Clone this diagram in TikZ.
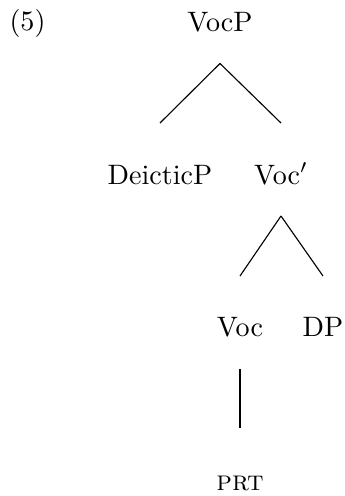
\documentclass[tikz,border=0pt]{standalone}
\usetikzlibrary{calc}

\begin{document}
\begin{tikzpicture}[
  x=0.356pt, y=0.356pt,
  font=\fontsize{10}{12}\selectfont,
  cat/.style={anchor=base, inner sep=0pt},
  branch/.style={line width=0.4pt},
]
\useasboundingbox (0,0) rectangle (344,496);

% example number and root
\node[cat, anchor=base west] (exnum) at (9,465.5) {(5)};
\node[cat] (vocp) at (220,464.5) {VocP};

% daughters of VocP
\node[cat] (deic) at (160,312) {DeicticP};
\node[cat] (vocbar) at (281,312) {Voc$'$};

% daughters of Voc'
\node[cat] (voc) at (240,160) {Voc};
\node[cat] (dp) at (323,160) {DP};

% terminal under the head
\node[cat] (prt) at (240,6) {\textsc{prt}};

% branches: from below the mother to above the daughter
\draw[branch] ($(vocp.base)+(0,-32)$) -- ($(deic.base)+(0,61)$);
\draw[branch] ($(vocp.base)+(0,-32)$) -- ($(vocbar.base)+(0,61)$);
\draw[branch] ($(vocbar.base)+(0,-32)$) -- ($(voc.base)+(0,60)$);
\draw[branch] ($(vocbar.base)+(0,-32)$) -- ($(dp.base)+(0,60)$);
\draw[branch] ($(voc.base)+(0,-33)$) -- ($(prt.base)+(0,62)$);

\end{tikzpicture}
\end{document}
